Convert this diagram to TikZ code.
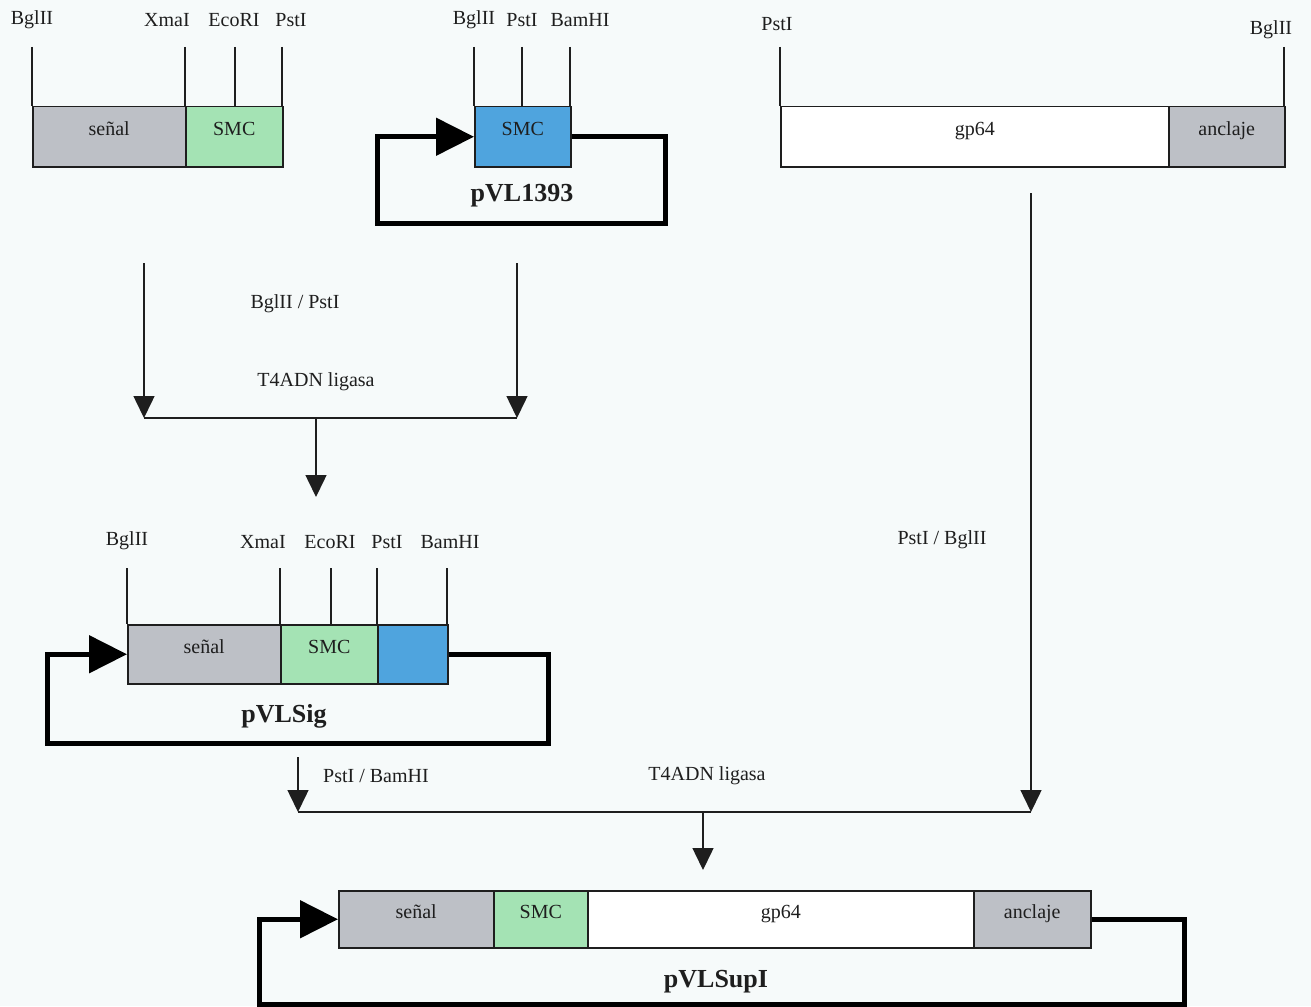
\documentclass[tikz,border=0pt]{standalone}
\usepackage{fontspec}
\setmainfont{Liberation Serif}
\usetikzlibrary{arrows.meta}
\definecolor{bg}{HTML}{F6FAFA}
\definecolor{segGray}{HTML}{BDC0C6}
\definecolor{segGreen}{HTML}{A4E3B4}
\definecolor{segBlue}{HTML}{4FA4DE}
\definecolor{ink}{HTML}{1E1E1E}
\begin{document}
\begin{tikzpicture}[x=1pt,y=-1pt,
  seg/.style={draw=ink, line width=1.5pt, inner sep=0pt, anchor=north west,
    text height=14pt, text depth=16pt,
    font=\fontsize{20}{22}\selectfont, text=ink},
  site/.style={font=\fontsize{20}{22}\selectfont, text=ink, inner sep=0pt},
  plasmid/.style={font=\bfseries\fontsize{26}{28}\selectfont, text=ink, inner sep=0pt},
  siteline/.style={draw=ink, line width=1.4pt},
  flow/.style={draw=ink, line width=1.5pt},
  flowarrow/.style={flow, -{Triangle[length=22pt,width=21pt]}},
  loopline/.style={draw=black, line width=5pt, -{Triangle[length=38pt,width=37pt]}}
]
\fill[bg] (0,0) rectangle (1311,1006);
\useasboundingbox (0,0) rectangle (1311,1006);

% ---------- top-left construct ----------
\node[seg, fill=segGray, minimum width=153pt, minimum height=60pt] (A1) at (32,106) {señal};
\node[seg, fill=segGreen, minimum width=97pt, minimum height=60pt] (A2) at (185,106) {SMC};
\node[site] (tA1) at (32,20) {BglII};
\node[site] (tA2) at (167,20) {XmaI};
\node[site] (tA3) at (234,20) {EcoRI};
\node[site] (tA4) at (291,20) {PstI};
\coordinate (cA1) at (32,47);
\coordinate (cA2) at (185,47);
\coordinate (cA3) at (235,47);
\coordinate (cA4) at (282,47);
\foreach \c in {cA1,cA2,cA3,cA4} \draw[siteline] (\c) -- (\c |- A1.north);

% ---------- pVL1393 ----------
\node[seg, fill=segBlue, minimum width=96pt, minimum height=60pt] (B1) at (474,106) {SMC};
\node[site] (tB1) at (474,20) {BglII};
\node[site] (tB2) at (522,20) {PstI};
\node[site] (tB3) at (580,20) {BamHI};
\coordinate (cB1) at (474,47);
\coordinate (cB2) at (522,47);
\coordinate (cB3) at (570,47);
\foreach \c in {cB1,cB2,cB3} \draw[siteline] (\c) -- (\c |- B1.north);
\coordinate (lB1) at (665,223);
\coordinate (lB2) at (377,223);
\draw[loopline] (B1.east) -| (lB1) -- (lB2) |- (B1.west);
\node[plasmid] (pB) at (522,196) {pVL1393};

% ---------- gp64 construct ----------
\node[seg, fill=white, minimum width=388pt, minimum height=60pt] (C1) at (780,106) {gp64};
\node[seg, fill=segGray, minimum width=116pt, minimum height=60pt] (C2) at (1168,106) {anclaje};
\node[site] (tC1) at (777,24) {PstI};
\node[site] (tC2) at (1271,30) {BglII};
\coordinate (cC1) at (780,47);
\coordinate (cC2) at (1284,47);
\foreach \c in {cC1,cC2} \draw[siteline] (\c) -- (\c |- C1.north);

% ---------- first ligation ----------
\coordinate (f1a) at (144,263);
\coordinate (f1b) at (517,263);
\coordinate (j1a) at (144,418);
\coordinate (j1b) at (517,418);
\coordinate (j1m) at (316,418);
\coordinate (j1e) at (316,497);
\draw[flowarrow] (f1a) -- (j1a);
\draw[flowarrow] (f1b) -- (j1b);
\draw[flow] (j1a) -- (j1b);
\draw[flowarrow] (j1m) -- (j1e);
\node[site] (e1) at (295,304) {BglII / PstI};
\node[site] (e2) at (316,382) {T4ADN ligasa};

% ---------- pVLSig ----------
\node[seg, fill=segGray, minimum width=153pt, minimum height=59pt] (D1) at (127,624) {señal};
\node[seg, fill=segGreen, minimum width=97pt, minimum height=59pt] (D2) at (280,624) {SMC};
\node[seg, fill=segBlue, minimum width=70pt, minimum height=59pt] (D3) at (377,624) {};
\node[site] (tD1) at (127,541) {BglII};
\node[site] (tD2) at (263,542) {XmaI};
\node[site] (tD3) at (330,542) {EcoRI};
\node[site] (tD4) at (387,542) {PstI};
\node[site] (tD5) at (450,542) {BamHI};
\coordinate (cD1) at (127,568);
\coordinate (cD2) at (280,568);
\coordinate (cD3) at (331,568);
\coordinate (cD4) at (377,568);
\coordinate (cD5) at (447,568);
\foreach \c in {cD1,cD2,cD3,cD4,cD5} \draw[siteline] (\c) -- (\c |- D1.north);
\coordinate (lD1) at (548,743);
\coordinate (lD2) at (47,743);
\draw[loopline] (D3.east) -| (lD1) -- (lD2) |- (D1.west);
\node[plasmid] (pD) at (284,716) {pVLSig};

% ---------- second ligation ----------
\coordinate (f2a) at (298,757);
\coordinate (f2b) at (1031,193);
\coordinate (j2a) at (298,812);
\coordinate (j2b) at (1031,812);
\coordinate (j2m) at (703,812);
\coordinate (j2e) at (703,870);
\draw[flowarrow] (f2a) -- (j2a);
\draw[flowarrow] (f2b) -- (j2b);
\draw[flow] (j2a) -- (j2b);
\draw[flowarrow] (j2m) -- (j2e);
\node[site] (e3) at (376,776) {PstI / BamHI};
\node[site] (e4) at (707,776) {T4ADN ligasa};
\node[site] (e5) at (942,540) {PstI / BglII};

% ---------- pVLSupI ----------
\node[seg, fill=segGray, minimum width=155pt, minimum height=57pt] (E1) at (338,890) {señal};
\node[seg, fill=segGreen, minimum width=94pt, minimum height=57pt] (E2) at (493,890) {SMC};
\node[seg, fill=white, minimum width=386pt, minimum height=57pt] (E3) at (587,890) {gp64};
\node[seg, fill=segGray, minimum width=117pt, minimum height=57pt] (E4) at (973,890) {anclaje};
\coordinate (lE1) at (1184,1004);
\coordinate (lE2) at (259,1004);
\draw[loopline] (E4.east) -| (lE1) -- (lE2) |- (E1.west);
\node[plasmid] (pE) at (716,982) {pVLSupI};
\end{tikzpicture}
\end{document}
